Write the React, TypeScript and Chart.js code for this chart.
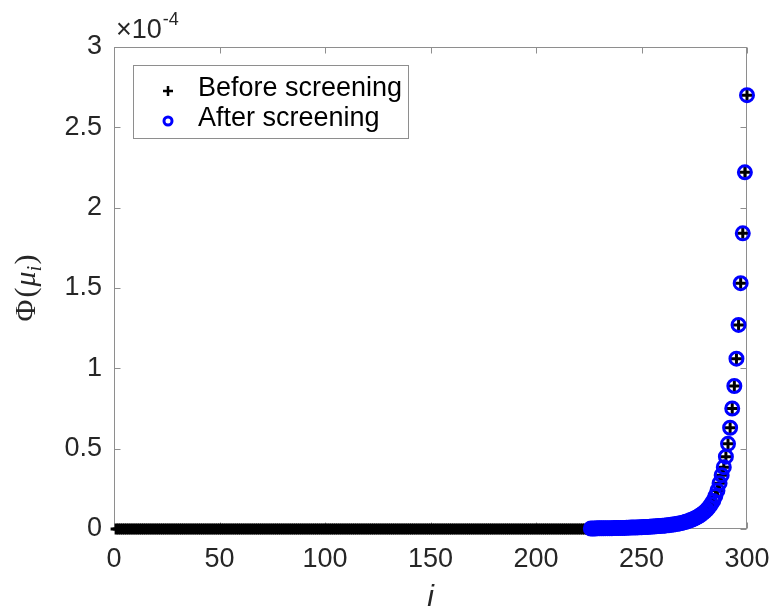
import React, { useEffect, useRef } from 'react';
import { Chart, registerables } from 'chart.js';

Chart.register(...registerables);

// ---- data (values in units of 1e-4) ----
const xTicks = [0, 50, 100, 150, 200, 250, 300];
const yTicks = [0, 0.5, 1, 1.5, 2, 2.5, 3];
const exponentBase = '×10';
const exponentPower = '-4';
const seriesNames = ['Before screening', 'After screening'];
const xTitle = 'i';
const firstIndex = 1;
const firstScreenedIndex = 226;

// i = 1..225 (before screening only, all ~0)
const unscreenedValues = [
  0, 0, 0, 0, 0, 0, 0, 0, 0, 0, 0, 0, 0, 0, 0, 0, 0, 0, 0, 0, 0, 0, 0, 0, 0,
  0, 0, 0, 0, 0, 0, 0, 0, 0, 0, 0, 0, 0, 0, 0, 0, 0, 0, 0, 0, 0, 0, 0, 0, 0,
  0, 0, 0, 0, 0, 0, 0, 0, 0, 0, 0, 0, 0, 0, 0, 0, 0, 0, 0, 0, 0, 0, 0, 0, 0,
  0, 0, 0, 0, 0, 0, 0, 0, 0, 0, 0, 0, 0, 0, 0, 0, 0, 0, 0, 0, 0, 0, 0, 0, 0,
  0, 0, 0, 0, 0, 0, 0, 0, 0, 0, 0, 0, 0, 0, 0, 0, 0, 0, 0, 0, 0, 0, 0, 0, 0,
  0, 0, 0, 0, 0, 0, 0, 0, 0, 0, 0, 0, 0, 0, 0, 0, 0, 0, 0, 0, 0, 0, 0, 0, 0,
  0, 0, 0, 0, 0, 0, 0, 0, 0, 0, 0, 0, 0, 0, 0, 0, 0, 0, 0, 0, 0, 0, 0, 0, 0,
  0, 0, 0, 0, 0, 0, 0, 0, 0, 0, 0, 0, 0, 0, 0, 0, 0, 0, 0, 0, 0, 0, 0, 0, 0,
  0, 0, 0, 0, 0, 0, 0, 0, 0, 0, 0, 0, 0, 0, 0, 0, 0, 0, 0, 0, 0, 0, 0, 0, 0,
];

// i = 226..300 (kept after screening)
const screenedValues = [
  0.003, 0.003, 0.003, 0.004, 0.004, 0.004, 0.004, 0.005, 0.005, 0.005,
  0.005, 0.006, 0.006, 0.006, 0.007, 0.007, 0.007, 0.008, 0.008, 0.009,
  0.009, 0.010, 0.010, 0.011, 0.011, 0.012, 0.013, 0.013, 0.014, 0.015,
  0.016, 0.017, 0.018, 0.019, 0.020, 0.021, 0.023, 0.024, 0.026, 0.028,
  0.030, 0.032, 0.035, 0.038, 0.041, 0.045, 0.049, 0.054, 0.059, 0.065,
  0.071, 0.079, 0.087, 0.097, 0.108, 0.121, 0.136, 0.154, 0.175, 0.205,
  0.24, 0.285, 0.335, 0.385, 0.45, 0.53, 0.63, 0.75, 0.89, 1.06,
  1.27, 1.53, 1.84, 2.22, 2.70,
];

const AXIS_COLOR = '#8e8e8e';
const TEXT_COLOR = '#262626';
const SANS = '"Liberation Sans", Arial, sans-serif';
const SERIF = '"Liberation Serif", "Times New Roman", serif';

const decorPlugin = {
  id: 'decor',
  beforeDatasetsDraw(chart: any) {
    const { ctx, chartArea } = chart;
    const xs = chart.scales.x;
    const ys = chart.scales.y;
    const l = Math.round(chartArea.left) + 0.5;
    const r = Math.round(chartArea.right) - 0.5;
    const t = Math.round(chartArea.top) + 0.5;
    const b = Math.round(chartArea.bottom) - 0.5;
    ctx.save();
    ctx.strokeStyle = AXIS_COLOR;
    ctx.lineWidth = 1;
    ctx.strokeRect(l, t, r - l, b - t);
    const tl = 6;
    ctx.beginPath();
    xTicks.forEach((v) => {
      const p = Math.round(xs.getPixelForValue(v)) + 0.5;
      ctx.moveTo(p, b);
      ctx.lineTo(p, b - tl);
      ctx.moveTo(p, t);
      ctx.lineTo(p, t + tl);
    });
    yTicks.forEach((v) => {
      const p = Math.round(ys.getPixelForValue(v)) + 0.5;
      ctx.moveTo(l, p);
      ctx.lineTo(l + tl, p);
      ctx.moveTo(r, p);
      ctx.lineTo(r - tl, p);
    });
    ctx.stroke();
    ctx.restore();
  },
  afterDraw(chart: any) {
    const { ctx, chartArea } = chart;
    ctx.save();
    // exponent label
    ctx.fillStyle = TEXT_COLOR;
    ctx.textBaseline = 'alphabetic';
    ctx.textAlign = 'left';
    ctx.font = `27px ${SANS}`;
    ctx.fillText(exponentBase, chartArea.left + 2, 38);
    const w = ctx.measureText(exponentBase).width;
    ctx.font = `18px ${SANS}`;
    ctx.fillText(exponentPower, chartArea.left + 2 + w + 1, 25);

    // x title
    ctx.font = `italic 30px ${SANS}`;
    ctx.textAlign = 'center';
    ctx.fillText(xTitle, (chartArea.left + chartArea.right) / 2, 606);

    // y title  Φ(μ_i)
    ctx.save();
    ctx.translate(25, (chartArea.top + chartArea.bottom) / 2);
    ctx.rotate(-Math.PI / 2);
    ctx.textAlign = 'left';
    const pieces = [
      { t: 'Φ', f: `30px ${SERIF}`, dy: 0, gap: 2 },
      { t: '(', f: `30px ${SERIF}`, dy: 0, gap: 1 },
      { t: 'μ', f: `italic 30px ${SERIF}`, dy: 0, gap: 0 },
      { t: 'i', f: `italic 21px ${SERIF}`, dy: 6, gap: 1 },
      { t: ')', f: `30px ${SERIF}`, dy: 0, gap: 0 },
    ];
    let total = 0;
    pieces.forEach((p) => {
      ctx.font = p.f;
      total += ctx.measureText(p.t).width + p.gap;
    });
    let x = -total / 2;
    pieces.forEach((p) => {
      ctx.font = p.f;
      ctx.fillText(p.t, x, 10 + p.dy);
      x += ctx.measureText(p.t).width + p.gap;
    });
    ctx.restore();

    // legend
    const bx = 133.5, by = 65.5, bw = 275, bh = 73;
    ctx.fillStyle = '#ffffff';
    ctx.fillRect(bx, by, bw, bh);
    ctx.strokeStyle = AXIS_COLOR;
    ctx.lineWidth = 1;
    ctx.strokeRect(bx, by, bw, bh);
    // plus marker
    ctx.strokeStyle = '#000000';
    ctx.lineWidth = 2.5;
    ctx.beginPath();
    ctx.moveTo(163, 91);
    ctx.lineTo(173, 91);
    ctx.moveTo(168, 86);
    ctx.lineTo(168, 96);
    ctx.stroke();
    // circle marker
    ctx.strokeStyle = '#0000ff';
    ctx.lineWidth = 3;
    ctx.beginPath();
    ctx.arc(168, 121, 4, 0, Math.PI * 2);
    ctx.stroke();
    ctx.fillStyle = '#000000';
    ctx.font = `27px ${SANS}`;
    ctx.textAlign = 'left';
    ctx.fillText(seriesNames[0], 198, 96);
    ctx.fillText(seriesNames[1], 198, 126);
    ctx.restore();
  },
};

export default function App() {
  const ref = useRef<HTMLCanvasElement | null>(null);
  useEffect(() => {
    if (!ref.current) return;
    const before = [...unscreenedValues, ...screenedValues].map((v, k) => ({ x: firstIndex + k, y: v }));
    const after = screenedValues.map((v, k) => ({ x: firstScreenedIndex + k, y: v }));
    const chart = new Chart(ref.current, {
      type: 'scatter',
      data: {
        datasets: [
          {
            label: seriesNames[1],
            data: after,
            order: 0,
            pointStyle: 'circle',
            pointRadius: 6.5,
            pointBorderWidth: 3,
            pointBorderColor: '#0000ff',
            pointBackgroundColor: 'rgba(0,0,0,0)',
            showLine: false,
            clip: false,
          } as any,
          {
            label: seriesNames[0],
            data: before,
            order: 1,
            pointStyle: 'cross',
            pointRadius: 5.5,
            pointBorderWidth: 3,
            pointBorderColor: '#000000',
            pointBackgroundColor: '#000000',
            showLine: false,
            clip: false,
          } as any,
        ],
      },
      options: {
        animation: false,
        responsive: false,
        devicePixelRatio: 1,
        events: [],
        layout: { padding: { left: 0, right: 24, top: 47, bottom: 0 } },
        plugins: { legend: { display: false }, tooltip: { enabled: false } },
        scales: {
          x: {
            type: 'linear',
            min: 0,
            max: 300,
            grid: { display: false, drawTicks: false, tickLength: 0 },
            border: { display: false },
            afterBuildTicks: (s: any) => {
              s.ticks = xTicks.map((v) => ({ value: v }));
            },
            afterFit: (s: any) => {
              s.height = 611 - 529;
              s.paddingLeft = 0;
              s.paddingRight = 0;
            },
            ticks: {
              padding: 14,
              color: TEXT_COLOR,
              font: { family: SANS, size: 27 },
              maxRotation: 0,
              autoSkip: false,
              callback: (v: any) => String(v),
            },
          },
          y: {
            type: 'linear',
            min: 0,
            max: 3,
            grid: { display: false, drawTicks: false, tickLength: 0 },
            border: { display: false },
            afterBuildTicks: (s: any) => {
              s.ticks = yTicks.map((v) => ({ value: v }));
            },
            afterFit: (s: any) => {
              s.width = 114;
              s.paddingTop = 0;
              s.paddingBottom = 0;
            },
            ticks: {
              padding: 12,
              color: TEXT_COLOR,
              font: { family: SANS, size: 27 },
              autoSkip: false,
              callback: (v: any) => String(v),
            },
          },
        },
      },
      plugins: [decorPlugin],
    } as any);
    return () => chart.destroy();
  }, []);
  return (
    <div style={{ position: 'fixed', left: 0, top: 0, width: 771, height: 611, background: '#ffffff' }}>
      <canvas ref={ref} width={771} height={611} style={{ display: 'block' }} />
    </div>
  );
}
